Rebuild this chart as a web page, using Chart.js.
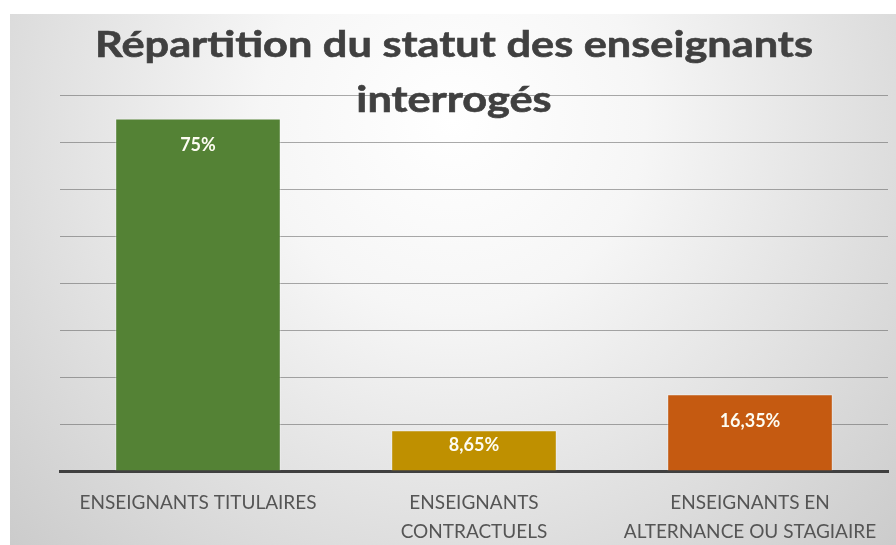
<!DOCTYPE html>
<html lang="fr">
<head>
<meta charset="utf-8">
<title>Répartition du statut des enseignants interrogés</title>
<script src="https://cdn.jsdelivr.net/npm/chart.js@4.4.1/dist/chart.umd.min.js"></script>
<style>
  html, body { margin: 0; padding: 0; background: #fff; }
  #wrap { position: relative; width: 896px; height: 545px; }
</style>
</head>
<body>
<div id="wrap"><canvas id="chart"></canvas></div>
<script>
// Data
const categories = [
    'ENSEIGNANTS TITULAIRES',
    ['ENSEIGNANTS', 'CONTRACTUELS'],
    ['ENSEIGNANTS EN', 'ALTERNANCE OU STAGIAIRE']
];
const values = [75, 8.65, 16.35];
const valueLabels = ['75%', '8,65%', '16,35%'];
const titleLines = ['Répartition du statut des enseignants', 'interrogés'];

const barColors = ['#548235', '#bf9000', '#c55a11'];

// background: white frame + soft radial gradient
const backgroundPlugin = {
    id: 'bg',
    beforeDraw(chart) {
        const ctx = chart.ctx;
        ctx.save();
        ctx.fillStyle = '#ffffff';
        ctx.fillRect(0, 0, chart.width, chart.height);
        const g = ctx.createRadialGradient(453, 120, 0, 453, 120, 640);
        g.addColorStop(0, '#ffffff');
        g.addColorStop(0.3, '#f6f6f6');
        g.addColorStop(1, '#c9c9c9');
        ctx.fillStyle = g;
        ctx.fillRect(10, 14, chart.width - 10, chart.height - 14);
        ctx.restore();
    }
};

// value labels inside the end of each bar
const valueLabelPlugin = {
    id: 'valueLabels',
    afterDatasetsDraw(chart) {
        const ctx = chart.ctx;
        const meta = chart.getDatasetMeta(0);
        ctx.save();
        ctx.font = 'bold 18px Lato, "Open Sans", sans-serif';
        ctx.fillStyle = '#fdfcf2';
        ctx.textAlign = 'center';
        ctx.textBaseline = 'middle';
        meta.data.forEach((bar, i) => {
            const h = bar.base - bar.y;
            const off = Math.min(27, h * 0.36);
            ctx.fillText(valueLabels[i], bar.x, bar.y + off);
        });
        ctx.restore();
    }
};

// title overlaps the plot area like the original
const titlePlugin = {
    id: 'overlayTitle',
    afterDraw(chart) {
        const ctx = chart.ctx;
        ctx.save();
        ctx.font = 'bold 36px Lato, "Open Sans", sans-serif';
        const sx = 718 / ctx.measureText(titleLines[0]).width;
        ctx.fillStyle = '#404040';
        ctx.strokeStyle = '#404040';
        ctx.lineWidth = 0.6;
        ctx.textAlign = 'center';
        ctx.textBaseline = 'alphabetic';
        ctx.translate(454, 0);
        ctx.scale(sx, 1);
        titleLines.forEach((line, i) => {
            ctx.fillText(line, 0, 57 + i * 55);
            ctx.strokeText(line, 0, 57 + i * 55);
        });
        ctx.restore();
    }
};

new Chart(document.getElementById('chart'), {
    type: 'bar',
    data: {
        labels: categories,
        datasets: [{
            data: values,
            backgroundColor: barColors,
            borderColor: 'rgba(255,255,255,0.35)',
            borderWidth: 1,
            barPercentage: 0.6,
            categoryPercentage: 1.0
        }]
    },
    options: {
        responsive: true,
        maintainAspectRatio: false,
        animation: false,
        layout: {
            padding: { left: 60, right: 8, top: 95, bottom: 0 }
        },
        plugins: {
            legend: { display: false },
            title: { display: false },
            tooltip: { enabled: false }
        },
        scales: {
            x: {
                afterFit(scale) { scale.height = 74; },
                grid: { display: false, drawTicks: false },
                border: { display: true, color: '#404040', width: 3 },
                ticks: {
                    color: '#555555',
                    font: { family: 'Lato, "Open Sans", sans-serif', size: 19, lineHeight: 1.53 },
                    padding: 17,
                    maxRotation: 0,
                    autoSkip: false
                }
            },
            y: {
                min: 0,
                max: 80,
                ticks: { display: false, stepSize: 10 },
                grid: { color: 'rgba(85,85,85,0.5)', lineWidth: 1, drawTicks: false },
                border: { display: false }
            }
        }
    },
    plugins: [backgroundPlugin, valueLabelPlugin, titlePlugin]
});
</script>
</body>
</html>
